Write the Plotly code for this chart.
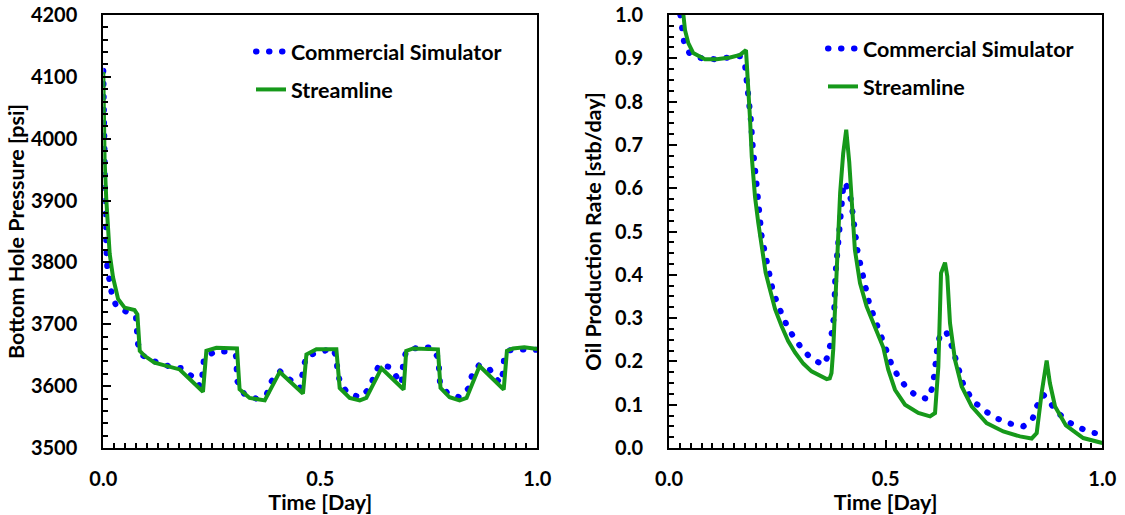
import plotly.graph_objects as go

# ---- Bottom hole pressure (left panel) ----
time_bhp_sim = [0, 0.002, 0.004, 0.006, 0.0092, 0.0138, 0.0194, 0.0293, 0.0576, 0.0753,
                0.0775, 0.080, 0.0922, 0.1214, 0.1498, 0.1806, 0.2037, 0.2228, 0.2265, 0.229,
                0.232, 0.2574, 0.288, 0.3058, 0.3074, 0.3088, 0.3242, 0.3518, 0.3765, 0.388,
                0.407, 0.4318, 0.4532, 0.4575, 0.4608, 0.4687, 0.4954, 0.5286, 0.5378, 0.5392,
                0.547, 0.5645, 0.593, 0.613, 0.6237, 0.636, 0.659, 0.676, 0.6876, 0.6912,
                0.699, 0.7297, 0.7567, 0.7719, 0.7742, 0.7758, 0.7926, 0.8203, 0.841, 0.8488,
                0.8657, 0.8894, 0.9064, 0.915, 0.9217, 0.9233, 0.937, 0.9562, 0.987, 1.0]
bhp_sim = [4110, 4000, 3880, 3830, 3792, 3770, 3750, 3730, 3719, 3711,
           3690, 3668, 3649, 3639, 3632.5, 3629, 3616, 3600, 3605, 3625,
           3646, 3656, 3656, 3649, 3628, 3608, 3588, 3580, 3587, 3608,
           3624, 3611, 3597, 3613, 3630, 3649, 3655, 3661, 3646, 3624,
           3603, 3588, 3582, 3596, 3616, 3635, 3631, 3613.5, 3604, 3641,
           3658, 3663, 3662, 3646, 3625, 3605, 3589, 3582, 3596, 3616,
           3634, 3628, 3611, 3605, 3624, 3644, 3658, 3660, 3658, 3659]

time_bhp_sl = [0, 0.003, 0.007, 0.011, 0.0147, 0.0224, 0.034, 0.049, 0.072, 0.0785,
               0.084, 0.095, 0.118, 0.176, 0.2297, 0.2375, 0.2606, 0.308, 0.314, 0.337,
               0.372, 0.4065, 0.460, 0.468, 0.491, 0.537, 0.5447, 0.5677, 0.591, 0.606,
               0.641, 0.692, 0.698, 0.714, 0.771, 0.777, 0.798, 0.821, 0.837, 0.867,
               0.9226, 0.930, 0.944, 0.97, 1.0]
bhp_sl = [4108, 3965, 3900, 3857, 3814, 3776, 3741, 3727, 3723, 3716,
          3657, 3649, 3638, 3627, 3591, 3657, 3662, 3661, 3595, 3581,
          3577, 3623, 3588, 3651, 3659.5, 3659.5, 3597, 3581, 3577, 3581,
          3629, 3594.5, 3657, 3661, 3659.5, 3597, 3582, 3577, 3581, 3632.5,
          3594.5, 3657, 3661, 3663, 3660]

# ---- Oil production rate (right panel) ----
time_rate_sim = [0.022, 0.0254, 0.029, 0.0346, 0.047, 0.0754, 0.1046, 0.1346, 0.164, 0.1754,
                 0.179, 0.183, 0.1885, 0.193, 0.1965, 0.1995, 0.2035, 0.207, 0.21, 0.214,
                 0.22, 0.2255, 0.2315, 0.2385, 0.25, 0.261, 0.2746, 0.291, 0.3085, 0.33,
                 0.357, 0.369, 0.373, 0.377, 0.381, 0.384, 0.389, 0.392, 0.3955, 0.3985,
                 0.403, 0.41, 0.42, 0.4357, 0.448, 0.4546, 0.4623, 0.4715, 0.483, 0.493,
                 0.5008, 0.514, 0.529, 0.547, 0.57, 0.597, 0.6086, 0.614, 0.616, 0.619,
                 0.6254, 0.633, 0.641, 0.6524, 0.6624, 0.67, 0.679, 0.693, 0.71, 0.7346,
                 0.76, 0.7886, 0.8177, 0.839, 0.8486, 0.864, 0.881, 0.9, 0.924, 0.9485,
                 0.9755, 1.0]
rate_sim = [1.03, 0.998, 0.967, 0.938, 0.912, 0.900, 0.898, 0.902, 0.905, 0.885,
            0.854, 0.825, 0.762, 0.700, 0.660, 0.615, 0.580, 0.550, 0.519, 0.488,
            0.458, 0.428, 0.398, 0.369, 0.333, 0.305, 0.277, 0.2516, 0.227, 0.2054,
            0.192, 0.2176, 0.246, 0.277, 0.3076, 0.400, 0.4616, 0.492, 0.523, 0.5846,
            0.613, 0.605, 0.573, 0.451, 0.397, 0.3614, 0.333, 0.3076, 0.277, 0.250,
            0.2207, 0.192, 0.165, 0.141, 0.1207, 0.113, 0.141, 0.1715, 0.202, 0.231,
            0.2615, 0.270, 0.265, 0.236, 0.206, 0.177, 0.148, 0.123, 0.1015, 0.082,
            0.067, 0.056, 0.050, 0.067, 0.096, 0.123, 0.104, 0.079, 0.059, 0.046,
            0.036, 0.031]

time_rate_sl = [0.030, 0.033, 0.037, 0.0446, 0.056, 0.083, 0.11, 0.141, 0.164, 0.1777,
                0.182, 0.187, 0.191, 0.1985, 0.206, 0.214, 0.223, 0.233, 0.245, 0.26,
                0.275, 0.291, 0.31, 0.329, 0.35, 0.364, 0.371, 0.375, 0.379, 0.387,
                0.395, 0.402, 0.409, 0.416, 0.423, 0.429, 0.4408, 0.456, 0.4715, 0.4886,
                0.4946, 0.506, 0.5216, 0.5447, 0.5754, 0.6024, 0.614, 0.6216, 0.6278, 0.637,
                0.6423, 0.6485, 0.66, 0.6755, 0.6986, 0.733, 0.7715, 0.81, 0.837, 0.8486,
                0.86, 0.8716, 0.879, 0.891, 0.916, 0.956, 1.0]
rate_sl = [1.03, 1.0, 0.965, 0.935, 0.912, 0.898, 0.898, 0.902, 0.908, 0.919,
           0.86, 0.76, 0.673, 0.58, 0.52, 0.458, 0.405, 0.366, 0.32, 0.281,
           0.247, 0.2205, 0.195, 0.177, 0.165, 0.159, 0.161, 0.173, 0.227, 0.43,
           0.59, 0.68, 0.735, 0.66, 0.55, 0.4577, 0.381, 0.327, 0.2885, 0.246,
           0.232, 0.1807, 0.1345, 0.1, 0.0808, 0.073, 0.0808, 0.188, 0.404, 0.428,
           0.396, 0.2885, 0.2038, 0.142, 0.096, 0.0577, 0.0383, 0.0268, 0.022, 0.0346,
           0.127, 0.202, 0.15, 0.096, 0.052, 0.023, 0.0115]

x_ticks = [0.0, 0.5, 1.0]
bhp_ticks = [3500, 3600, 3700, 3800, 3900, 4000, 4100, 4200]
rate_ticks = [round(0.1 * i, 1) for i in range(11)]

SIM_NAME = "Commercial Simulator"
SL_NAME = "Streamline"
BLUE = "#0000ff"
GREEN = "#16991a"
DOT_DASH = "0.5px,12.5px"
TICK_FONT = dict(family="Lato", size=20, color="black", weight="bold")
TEXT_FONT = dict(family="Lato", size=21.5, color="black", weight="bold")

W, H = 1125, 515

fig = go.Figure()

fig.add_trace(go.Scatter(x=time_bhp_sim, y=bhp_sim, name=SIM_NAME, mode="lines",
                         line=dict(color=BLUE, width=6, dash=DOT_DASH),
                         xaxis="x", yaxis="y", legend="legend", legendgroup="sim"))
fig.add_trace(go.Scatter(x=time_bhp_sl, y=bhp_sl, name=SL_NAME, mode="lines",
                         line=dict(color=GREEN, width=4),
                         xaxis="x", yaxis="y", legend="legend", legendgroup="sl"))
fig.add_trace(go.Scatter(x=time_rate_sim, y=rate_sim, name=SIM_NAME, mode="lines",
                         line=dict(color=BLUE, width=6, dash=DOT_DASH),
                         xaxis="x2", yaxis="y2", legend="legend2", legendgroup="sim"))
fig.add_trace(go.Scatter(x=time_rate_sl, y=rate_sl, name=SL_NAME, mode="lines",
                         line=dict(color=GREEN, width=4),
                         xaxis="x2", yaxis="y2", legend="legend2", legendgroup="sl"))

# plot-area boxes in pixels: (left, right, top, bottom)
left_box = (103.3, 537.3, 15, 448)
right_box = (669, 1102.3, 15, 448)


def xdom(box):
    return [box[0] / W, box[1] / W]


def ydom(box):
    return [1 - box[3] / H, 1 - box[2] / H]


common = dict(showline=True, linecolor="black", linewidth=2, mirror=True,
              showgrid=False, zeroline=False, ticks="inside", ticklen=8, tickwidth=2,
              tickcolor="black", tickfont=TICK_FONT, automargin=False)


def xaxis(box, anchor):
    return dict(common, domain=xdom(box), anchor=anchor, range=[0, 1],
                tickvals=x_ticks, tickformat=".1f", ticklabelstandoff=12,
                minor=dict(dtick=0.025, tick0=0, ticks="inside", ticklen=5,
                           tickwidth=2, tickcolor="black"),
                title=dict(text="Time [Day]", font=TEXT_FONT, standoff=0))


fig.update_layout(
    width=W, height=H,
    margin=dict(l=0, r=0, t=0, b=0, autoexpand=False),
    paper_bgcolor="white", plot_bgcolor="white",
    font=TEXT_FONT,
    xaxis=xaxis(left_box, "y"),
    xaxis2=xaxis(right_box, "y2"),
    yaxis=dict(common, domain=ydom(left_box), anchor="x", range=[3500, 4200],
               tickvals=bhp_ticks, ticklabelstandoff=20,
               minor=dict(dtick=20, tick0=3500, ticks="inside", ticklen=5,
                          tickwidth=2, tickcolor="black"),
               title=dict(text="Bottom Hole Pressure [psi]", font=TEXT_FONT, standoff=0)),
    yaxis2=dict(common, domain=ydom(right_box), anchor="x2", range=[0, 1],
                tickvals=rate_ticks, tickformat=".1f", ticklabelstandoff=20,
                minor=dict(dtick=0.025, tick0=0, ticks="inside", ticklen=5,
                           tickwidth=2, tickcolor="black"),
                title=dict(text="Oil Production Rate [stb/day]", font=TEXT_FONT, standoff=8)),
    legend=dict(x=251 / W, y=1 - 31 / H, xanchor="left", yanchor="top",
                bgcolor="rgba(0,0,0,0)", font=TEXT_FONT, tracegroupgap=7),
    legend2=dict(x=823 / W, y=1 - 28 / H, xanchor="left", yanchor="top",
                 bgcolor="rgba(0,0,0,0)", font=TEXT_FONT, tracegroupgap=7),
    showlegend=True,
)

# round caps turn the short dashes of the simulator curves into dots
round_dots = """
var gd = document.getElementById('{plot_id}');
function roundDots() {
  gd.querySelectorAll('path').forEach(function (p) {
    var d = p.style.strokeDasharray || '';
    if (d.indexOf('12.5') !== -1) { p.style.strokeLinecap = 'round'; }
  });
}
roundDots();
gd.on('plotly_afterplot', roundDots);
"""

fig.write_html("out.html", post_script=round_dots)
